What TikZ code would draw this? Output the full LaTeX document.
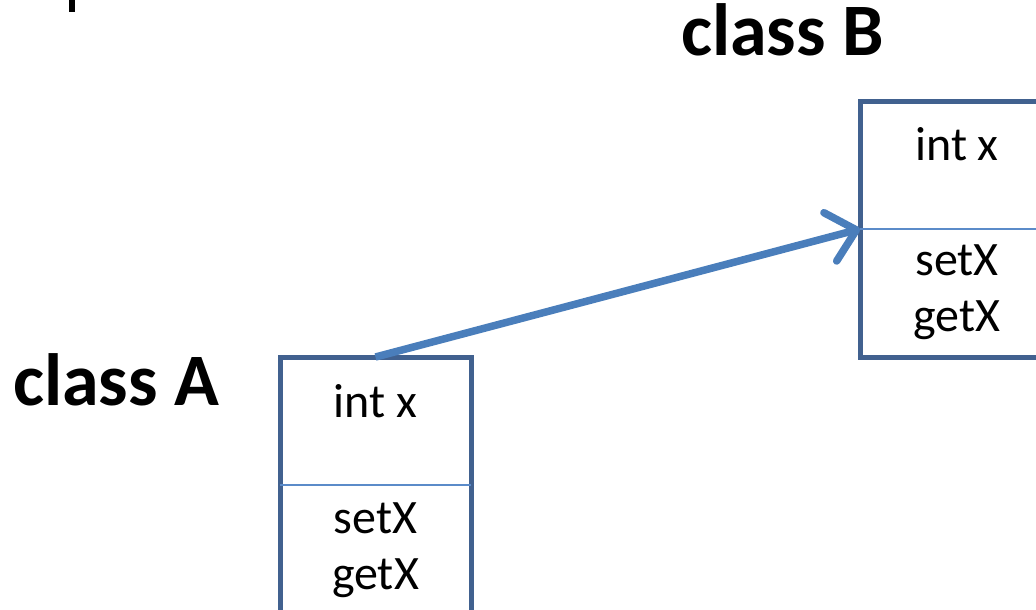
\documentclass[tikz,border=0pt]{standalone}
\usepackage{fontspec}
\setmainfont{Carlito}
\usetikzlibrary{arrows.meta,positioning}
\definecolor{boxedge}{HTML}{41618F}
\definecolor{divblue}{HTML}{5B8BC9}
\definecolor{linkblue}{HTML}{4A7EBB}
\tikzset{
  classbox/.style={draw=boxedge, line width=5pt, minimum width=191pt,
    minimum height=256pt, inner sep=0pt, outer sep=0pt},
  divider/.style={draw=divblue, line width=2pt},
  member/.style={font=\fontsize{48}{56}\selectfont, inner sep=0pt, anchor=base},
  classname/.style={font=\fontsize{74}{80}\selectfont\bfseries, inner sep=0pt,
    anchor=base west},
  link/.style={draw=linkblue, line width=7.5pt,
    -{Straight Barb[length=27pt, width=50pt, round]}}
}

\begin{document}
\begin{tikzpicture}[x=1pt,y=-1pt]
  \useasboundingbox (0,0) rectangle (1036,610);
  \clip (0,0) rectangle (1036,610);
  % cut-off glyph at the top edge
  \fill (68.5,0) rectangle (74.5,12.5);
  % class boxes
  \node [classbox] (boxA) at (375.5,485) {};
  \node [classbox] (boxB) at (955.5,229) {};
  \draw [divider] (boxA.west) -- (boxA.east);
  \draw [divider] (boxB.west) -- (boxB.east);
  % names
  \node [classname] (nameA) at (13,405) {class A};
  \node [classname] (nameB) at (681,56) {class B};
  % members
  \node [member] (fieldA) at (375.5,417) {int x};
  \node [member] (setA) at (375.5,533) {setX};
  \node [member] (getA) at (375.5,589) {getX};
  \node [member] (fieldB) at (957,160) {int x};
  \node [member] (setB) at (957,275) {setX};
  \node [member] (getB) at (957,331) {getX};
  % reference
  \draw [link] (boxA.north) -- (boxB.west);
\end{tikzpicture}
\end{document}
